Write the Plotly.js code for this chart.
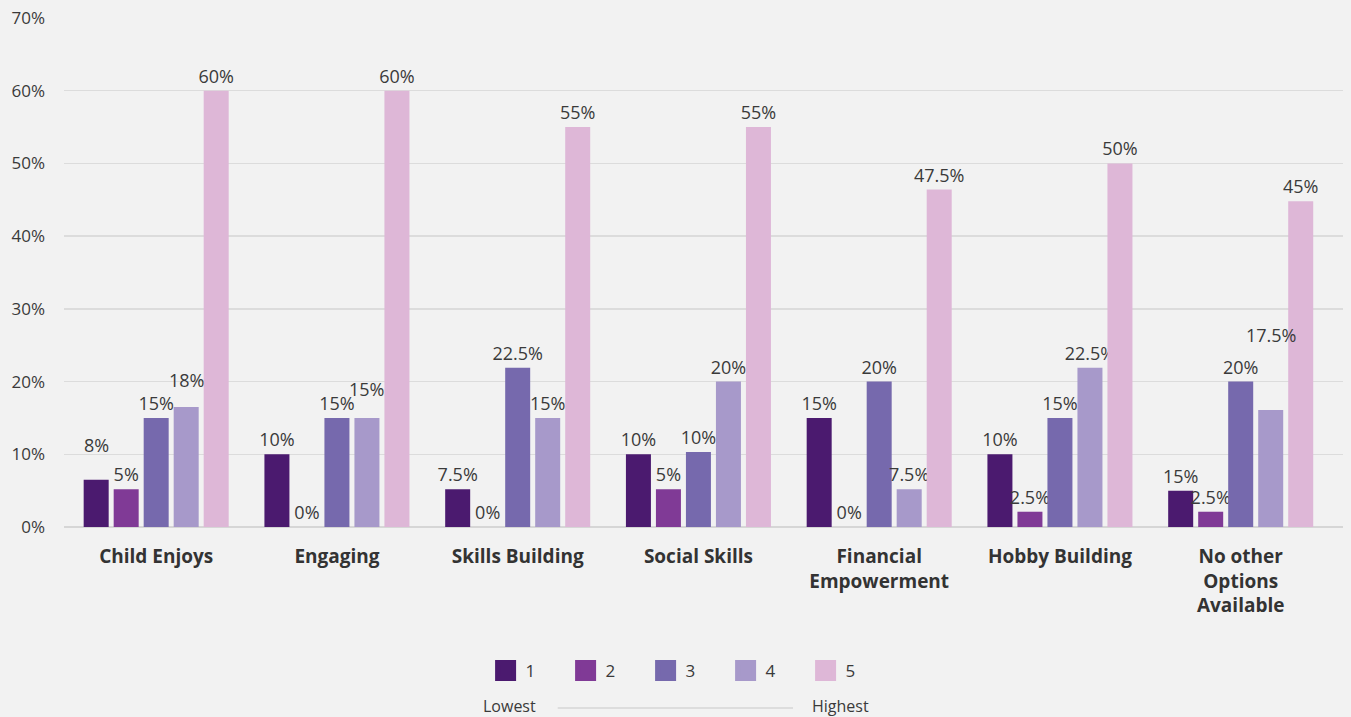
<!DOCTYPE html>
<html>
<head>
<meta charset="utf-8">
<script src="https://cdn.plot.ly/plotly-3.0.1.min.js"></script>
<style>html,body{margin:0;padding:0;background:#f2f2f2;}#chart{width:1351px;height:717px;}</style>
</head>
<body>
<div id="chart"></div>
<script>
const categories = ['Child Enjoys','Engaging','Skills Building','Social Skills','Financial<br>Empowerment','Hobby Building','No other<br>Options<br>Available'];
const seriesNames = ['1','2','3','4','5'];
const colors = ['#4b1a6f','#803a96','#7669ad','#a799ca','#deb7d7'];
const rating1 = [6.5, 10, 5.2, 10, 15, 10, 5.0];
const rating2 = [5.2, 0, 0, 5.2, 0, 2.1, 2.1];
const rating3 = [15, 15, 21.9, 10.3, 20, 15, 20];
const rating4 = [16.5, 15, 15, 20, 5.2, 21.9, 16.1];
const rating5 = [60, 60, 55, 55, 46.4, 50, 44.8];
const labels1 = ['8%','10%','7.5%','10%','15%','10%','15%'];
const labels2 = ['5%','0%','0%','5%','0%','2.5%','2.5%'];
const labels3 = ['15%','15%','22.5%','10%','20%','15%','20%'];
const labels4 = ['18%','15%','15%','20%','7.5%','22.5%','17.5%'];
const labels5 = ['60%','60%','55%','55%','47.5%','50%','45%'];
const yTicks = [0,10,20,30,40,50,60,70];
const yTickText = ['0%','10%','20%','30%','40%','50%','60%','70%'];

const values = [rating1, rating2, rating3, rating4, rating5];
const labels = [labels1, labels2, labels3, labels4, labels5];
const FONT = '"Open Sans", Lato, sans-serif';
const LABEL_FONT = {family: FONT, size: 18, color: '#3a3a3a'};

// style: a few value labels sit higher above their bar (pixel lift), keyed "series,category"
const labelLift = {'0,0': 19, '3,0': 11, '3,1': 13, '3,6': 59};
const BAR_PITCH = 30; // px between neighbouring bars in a group

const barTraces = values.map((v, i) => ({
  type: 'bar',
  name: seriesNames[i],
  x: categories,
  y: v,
  text: labels[i].map((t, j) => (labelLift[i + ',' + j] ? '' : t)),
  textposition: 'outside',
  constraintext: 'none',
  cliponaxis: false,
  textfont: LABEL_FONT,
  marker: {color: colors[i]},
  showlegend: false,
  hoverinfo: 'x+y'
}));

const liftedLabels = [];
values.forEach((v, i) => v.forEach((val, j) => {
  const lift = labelLift[i + ',' + j];
  if (lift) {
    liftedLabels.push({
      xref: 'x', yref: 'y', x: categories[j], y: val,
      xanchor: 'center', yanchor: 'bottom',
      xshift: (i - 2) * BAR_PITCH, yshift: 2 + lift,
      text: labels[i][j], showarrow: false, font: LABEL_FONT
    });
  }
}));

// legend proxies (no data) so the legend swatches can be larger
const legendTraces = seriesNames.map((n, i) => ({
  type: 'scatter', mode: 'markers', name: n,
  x: [null], y: [null],
  marker: {symbol: 'square', size: 16, color: colors[i], line: {color: colors[i], width: 5}},
  showlegend: true, hoverinfo: 'skip'
}));

const layout = {
  width: 1351, height: 717,
  paper_bgcolor: '#f2f2f2', plot_bgcolor: '#f2f2f2',
  margin: {l: 64, r: 8, t: 18, b: 190},
  barmode: 'group', bargap: 0.17, bargroupgap: 0.1667,
  font: {family: FONT, color: '#3a3a3a'},
  xaxis: {
    range: [-0.51, 6.566],
    tickfont: {family: FONT, size: 19, color: '#333333', weight: 'bold'},
    showgrid: false, showline: false, ticks: '', ticklabelstandoff: 16
  },
  yaxis: {
    range: [0, 70], tickvals: yTicks, ticktext: yTickText,
    tickfont: {family: FONT, size: 17, color: '#3a3a3a'},
    gridcolor: '#dcdcdc', gridwidth: 1.5, zeroline: true, zerolinecolor: '#d6d6d6', zerolinewidth: 1.5,
    showline: false, ticks: '', ticklabelstandoff: 18
  },
  showlegend: true,
  legend: {
    orientation: 'h', x: 0.486, xanchor: 'center', y: -0.283, yanchor: 'middle',
    font: {family: FONT, size: 17, color: '#3a3a3a'},
    entrywidth: 35, itemsizing: 'trace', bgcolor: 'rgba(0,0,0,0)'
  },
  annotations: liftedLabels.concat([
    {xref: 'paper', yref: 'paper', x: 0.3706, y: -0.351, xanchor: 'right', yanchor: 'middle', text: 'Lowest', showarrow: false, font: {family: FONT, size: 16, color: '#3a3a3a'}},
    {xref: 'paper', yref: 'paper', x: 0.583, y: -0.351, xanchor: 'left', yanchor: 'middle', text: 'Highest', showarrow: false, font: {family: FONT, size: 16, color: '#3a3a3a'}}
  ]),
  shapes: [
    {type: 'line', xref: 'paper', yref: 'paper', x0: 0.386, x1: 0.570, y0: -0.3556, y1: -0.3556, line: {color: '#c8c8c8', width: 1}}
  ]
};

Plotly.newPlot('chart', barTraces.concat(legendTraces), layout, {displayModeBar: false, staticPlot: true});
</script>
</body>
</html>
